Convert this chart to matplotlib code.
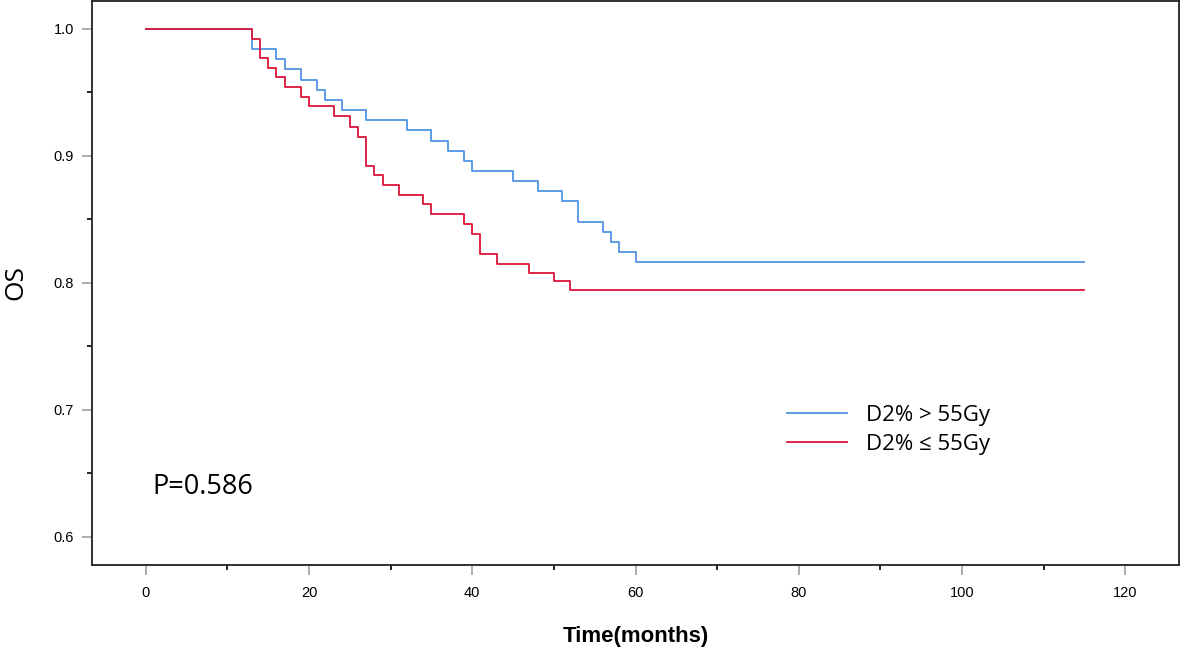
import matplotlib
matplotlib.use("Agg")
import matplotlib.pyplot as plt
from matplotlib.ticker import MultipleLocator, FormatStrFormatter

# Data
blue_label = "D2% > 55Gy"
red_label = "D2% \u2264 55Gy"
blue_times = [0, 13, 16, 17, 19, 21, 22, 24, 27, 32, 35, 37, 39, 40, 45, 48, 51, 53, 56, 57, 58, 60, 115]
blue_surv = [1.0, 0.984, 0.976, 0.968, 0.960, 0.952, 0.944, 0.936, 0.928, 0.920, 0.912, 0.904,
             0.896, 0.888, 0.880, 0.872, 0.864, 0.848, 0.840, 0.832, 0.824, 0.816, 0.816]
red_times = [0, 13, 14, 15, 16, 17, 19, 20, 23, 25, 26, 27, 28, 29, 31, 34, 35, 39, 40, 41, 43, 47, 50, 52, 115]
red_surv = [1.0, 0.992, 0.977, 0.969, 0.962, 0.954, 0.946, 0.939, 0.931, 0.923, 0.915, 0.892,
            0.885, 0.877, 0.869, 0.862, 0.854, 0.846, 0.838, 0.823, 0.815, 0.808, 0.801, 0.794, 0.794]
p_text = "P=0.586"
x_label = "Time(months)"
y_label = "OS"

W, H = 1181, 647
fig = plt.figure(figsize=(W / 100, H / 100), dpi=100)
ax = fig.add_axes([92 / W, 82 / H, (1179 - 92) / W, (646 - 82) / H])

blue = "#4F94E6"
red = "#DD1438"
ax.step(blue_times, blue_surv, where="post", color=blue, lw=1.3, label=blue_label)
ax.step(red_times, red_surv, where="post", color=red, lw=1.3, label=red_label)

ax.set_xlim(-6.6, 126.6)
ax.set_ylim(0.5777, 1.0219)

ax.xaxis.set_major_locator(MultipleLocator(20))
ax.xaxis.set_minor_locator(MultipleLocator(10))
ax.yaxis.set_major_locator(MultipleLocator(0.1))
ax.yaxis.set_minor_locator(MultipleLocator(0.05))
ax.yaxis.set_major_formatter(FormatStrFormatter("%.1f"))

tick_font = "Liberation Sans"
ax.tick_params(axis="both", which="major", direction="out", length=7, width=1.2,
               color="#A0A0A0", labelsize=10.5, labelcolor="black")
ax.tick_params(axis="both", which="minor", direction="out", length=3.5, width=1.2, color="black")
ax.tick_params(axis="x", which="major", pad=8)
ax.tick_params(axis="y", which="major", pad=6)
for lab in ax.get_xticklabels() + ax.get_yticklabels():
    lab.set_fontfamily(tick_font)

for s in ax.spines.values():
    s.set_linewidth(1.3)
    s.set_color("#222222")

ax.set_xlabel(x_label, fontsize=16, fontweight="bold", family="Liberation Sans", labelpad=19)
ax.set_ylabel(y_label, fontsize=19, family="Open Sans", labelpad=18)

ax.text(0.85, 0.639, p_text, fontsize=19.5, family="Open Sans", va="center", ha="left")

leg = ax.legend(loc="center left", bbox_to_anchor=(787 / W, 1 - 430 / H),
                bbox_transform=fig.transFigure, frameon=False,
                prop={"family": "Open Sans", "size": 16},
                handlelength=2.7, handletextpad=0.85, labelspacing=0.36,
                borderpad=0, borderaxespad=0)

fig.savefig("out.png", dpi=100)
